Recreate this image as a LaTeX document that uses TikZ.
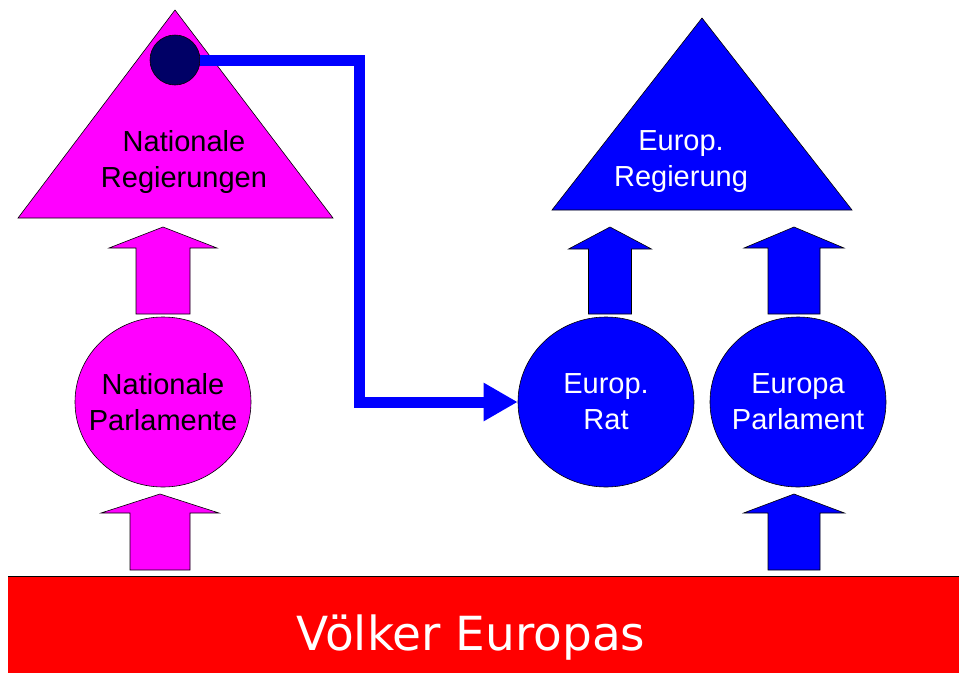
\documentclass[tikz,border=0pt]{standalone}
\usepackage{fontspec}
\setmainfont{Liberation Sans}
\newfontfamily\volkfont{DejaVu Sans}
\usetikzlibrary{shapes.geometric,arrows.meta}
\definecolor{natmag}{RGB}{255,0,255}
\definecolor{eublue}{RGB}{0,0,255}
\definecolor{dotnavy}{RGB}{0,0,102}
\definecolor{volkred}{RGB}{255,0,0}
\newcommand{\blockup}[7]{\filldraw[fill=#7,draw=black,line width=0.6pt] (#1-#5,#2) -- (#1-#5,#3) -- (#1-#6,#3) -- (#1,#4) -- (#1+#6,#3) -- (#1+#5,#3) -- (#1+#5,#2) -- cycle;}

\begin{document}
\begin{tikzpicture}[x=1pt,y=-1pt,
    lbl/.style={align=center,font=\fontsize{29}{36}\selectfont},
    parl/.style={ellipse,draw=black,line width=0.6pt,minimum width=176pt,minimum height=170pt,inner sep=0pt},
    link/.style={eublue,line width=11pt,line join=miter,-{Triangle[length=34pt,width=36pt]}}]
         \useasboundingbox (0,0) rectangle (959,673);
         \filldraw[fill=natmag,draw=black,line width=0.6pt] (175,10) -- (333,218) -- (18,218) -- cycle;
         \filldraw[fill=eublue,draw=black,line width=0.6pt] (702,18) -- (852,210) -- (552,210) -- cycle;
         \node[lbl] (NR) at (184,162) {Nationale\\Regierungen};
         \node[lbl,text=white] (ER) at (681,162) {Europ.\\Regierung};
         \node[parl,fill=natmag,label={[lbl]center:{Nationale\\Parlamente}}] (NP) at (163,402) {};
         \node[parl,fill=eublue,label={[lbl,text=white]center:{Europ.\\Rat}}] (RAT) at (606,402) {};
         \node[parl,fill=eublue,label={[lbl,text=white]center:{Europa\\Parlament}}] (EP) at (798,402) {};
         \node[circle,fill=dotnavy,draw=black,line width=0.6pt,minimum size=50pt,inner sep=0pt] (D) at (175,60) {};
         \coordinate (K) at (359,60);
         \draw[link] (D.east) -- (K) |- (RAT.west);
         \blockup{163}{314}{248}{227}{27}{54}{natmag}
         \blockup{160}{570}{513}{494}{30}{59}{natmag}
         \blockup{610}{314}{249}{227}{21.5}{41.5}{eublue}
         \blockup{794}{314}{248}{227}{26}{50}{eublue}
         \blockup{794}{570}{513}{494}{26}{50.5}{eublue}
         \fill[volkred] (8,576) rectangle (959,673);
         \draw[line width=1pt] (8,576) -- (959,576);
         \node[font=\volkfont\fontsize{47}{56}\selectfont,text=white,anchor=base] (V) at (471,650) {Völker Europas};
\end{tikzpicture}
\end{document}
